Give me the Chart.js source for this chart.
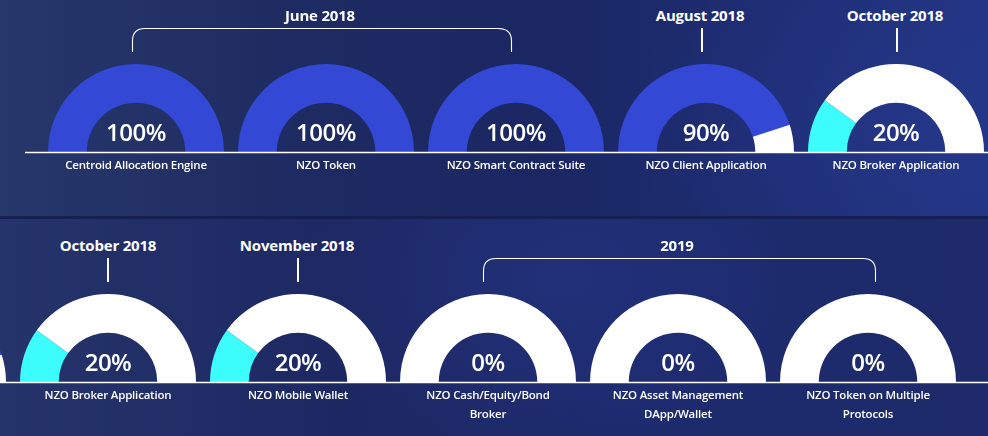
<!DOCTYPE html>
<html>
<head>
<meta charset="utf-8">
<script src="https://cdn.jsdelivr.net/npm/chart.js@4"></script>
<style>
  html, body { margin:0; padding:0; }
  body { width:988px; height:436px; overflow:hidden; position:relative; font-family:"Open Sans", "DejaVu Sans", sans-serif; color:#fff; }
  .band { position:absolute; left:0; width:988px; }
  #bandTop { top:0; height:217px; background:
      radial-gradient(ellipse 300px 200px at 930px 120px, rgba(40,60,150,0.45), rgba(40,60,150,0) 100%),
      linear-gradient(90deg, #27376a 0%, #1e2b62 30%, #1b2763 55%, #1e2d73 80%, #223380 100%); }
  #bandBot { top:218px; height:218px; background:
      radial-gradient(ellipse 260px 180px at 560px 60px, rgba(40,60,150,0.35), rgba(40,60,150,0) 100%),
      linear-gradient(90deg, #25346a 0%, #1d2863 35%, #1d2a6d 65%, #1e2a6a 100%); }
  #sep { position:absolute; left:0; top:216px; width:988px; height:3px; background:#161f52; }
  canvas.g { position:absolute; }
  .txt { position:absolute; transform:translate(-50%,-50%); white-space:nowrap; text-align:center; }
  .pct { font-size:24px; font-weight:600; letter-spacing:-0.5px; }
  .lbl { font-size:11.5px; font-weight:600; line-height:19px; letter-spacing:-0.2px; }
  .hdr { font-size:15px; font-weight:700; letter-spacing:-0.2px; }
  svg { position:absolute; left:0; top:0; }
</style>
</head>
<body>
<div class="band" id="bandTop"></div>
<div class="band" id="bandBot"></div>
<div id="sep"></div>
<div id="root"></div>
<svg id="ov" width="988" height="436"></svg>
<script>
// ---- data ----
const topNames = ['Centroid Allocation Engine', 'NZO Token', 'NZO Smart Contract Suite', 'NZO Client Application', 'NZO Broker Application'];
const topValues = [100, 100, 100, 90, 20];
const bottomNames = ['NZO Client Application', 'NZO Broker Application', 'NZO Mobile Wallet', ['NZO Cash/Equity/Bond', 'Broker'], ['NZO Asset Management', 'DApp/Wallet'], ['NZO Token on Multiple', 'Protocols']];
const bottomValues = [90, 20, 20, 0, 0, 0];
const topMilestones = ['June 2018', 'August 2018', 'October 2018'];
const bottomMilestones = ['October 2018', 'November 2018', '2019'];

// ---- layout / style ----
const R = 88;
const topCenters = [136, 326, 516, 706, 896];
const bottomCenters = [-82, 108, 298, 488, 678, 868];
const topBase = 152, bottomBase = 382;
const BLUE = '#3448d6', CYAN = '#3cfcfc', WHITE = '#ffffff';

function fillColor(v) { return v >= 50 ? BLUE : CYAN; }

const root = document.getElementById('root');
function addText(cls, html, x, y) {
  const d = document.createElement('div');
  d.className = 'txt ' + cls;
  d.innerHTML = html;
  d.style.left = x + 'px';
  d.style.top = y + 'px';
  root.appendChild(d);
}

function gauge(cx, base, value, name) {
  const c = document.createElement('canvas');
  c.className = 'g';
  c.width = 2 * R; c.height = R;
  c.style.left = (cx - R) + 'px';
  c.style.top = (base - R) + 'px';
  c.style.width = 2 * R + 'px'; c.style.height = R + 'px';
  root.appendChild(c);
  new Chart(c, {
    type: 'doughnut',
    data: {
      labels: ['Done', 'Remaining'],
      datasets: [{
        data: [value, 100 - value],
        backgroundColor: [fillColor(value), WHITE],
        borderWidth: 0,
        hoverOffset: 0
      }]
    },
    options: {
      responsive: false,
      animation: false,
      rotation: -90,
      circumference: 180,
      cutout: '56%',
      layout: { padding: 0 },
      plugins: { legend: { display: false }, tooltip: { enabled: false } },
      events: []
    }
  });
  addText('pct', value + '%', cx, base - 21);
  const lines = Array.isArray(name) ? name : [name];
  lines.forEach((l, i) => addText('lbl', l, cx, base + 12 + i * 19));
}

topValues.forEach((v, i) => gauge(topCenters[i], topBase, v, topNames[i]));
bottomValues.forEach((v, i) => gauge(bottomCenters[i], bottomBase, v, bottomNames[i]));

// headers
addText('hdr', topMilestones[0], 320, 15);
addText('hdr', topMilestones[1], 700, 15);
addText('hdr', topMilestones[2], 895, 15);
addText('hdr', bottomMilestones[0], 108, 245);
addText('hdr', bottomMilestones[1], 297, 245);
addText('hdr', bottomMilestones[2], 677, 245);

// overlay lines
const ov = document.getElementById('ov');
function path(d, w) {
  const p = document.createElementNS('http://www.w3.org/2000/svg', 'path');
  p.setAttribute('d', d);
  p.setAttribute('stroke', '#ffffff');
  p.setAttribute('stroke-width', w);
  p.setAttribute('fill', 'none');
  ov.appendChild(p);
}
path('M25,152.5 H988', 1.6);
path('M0,382.5 H988', 1.6);
path('M132.5,52 V41 Q132.5,28.5 145,28.5 H498 Q511.5,28.5 511.5,41 V52', 1.1);
path('M702,28 V52', 2);
path('M897,28 V52', 2);
path('M108,258 V282', 2);
path('M298,258 V282', 2);
path('M483.5,282 V271 Q483.5,258.5 496,258.5 H863 Q875.5,258.5 875.5,271 V282', 1.1);
</script>
</body>
</html>
